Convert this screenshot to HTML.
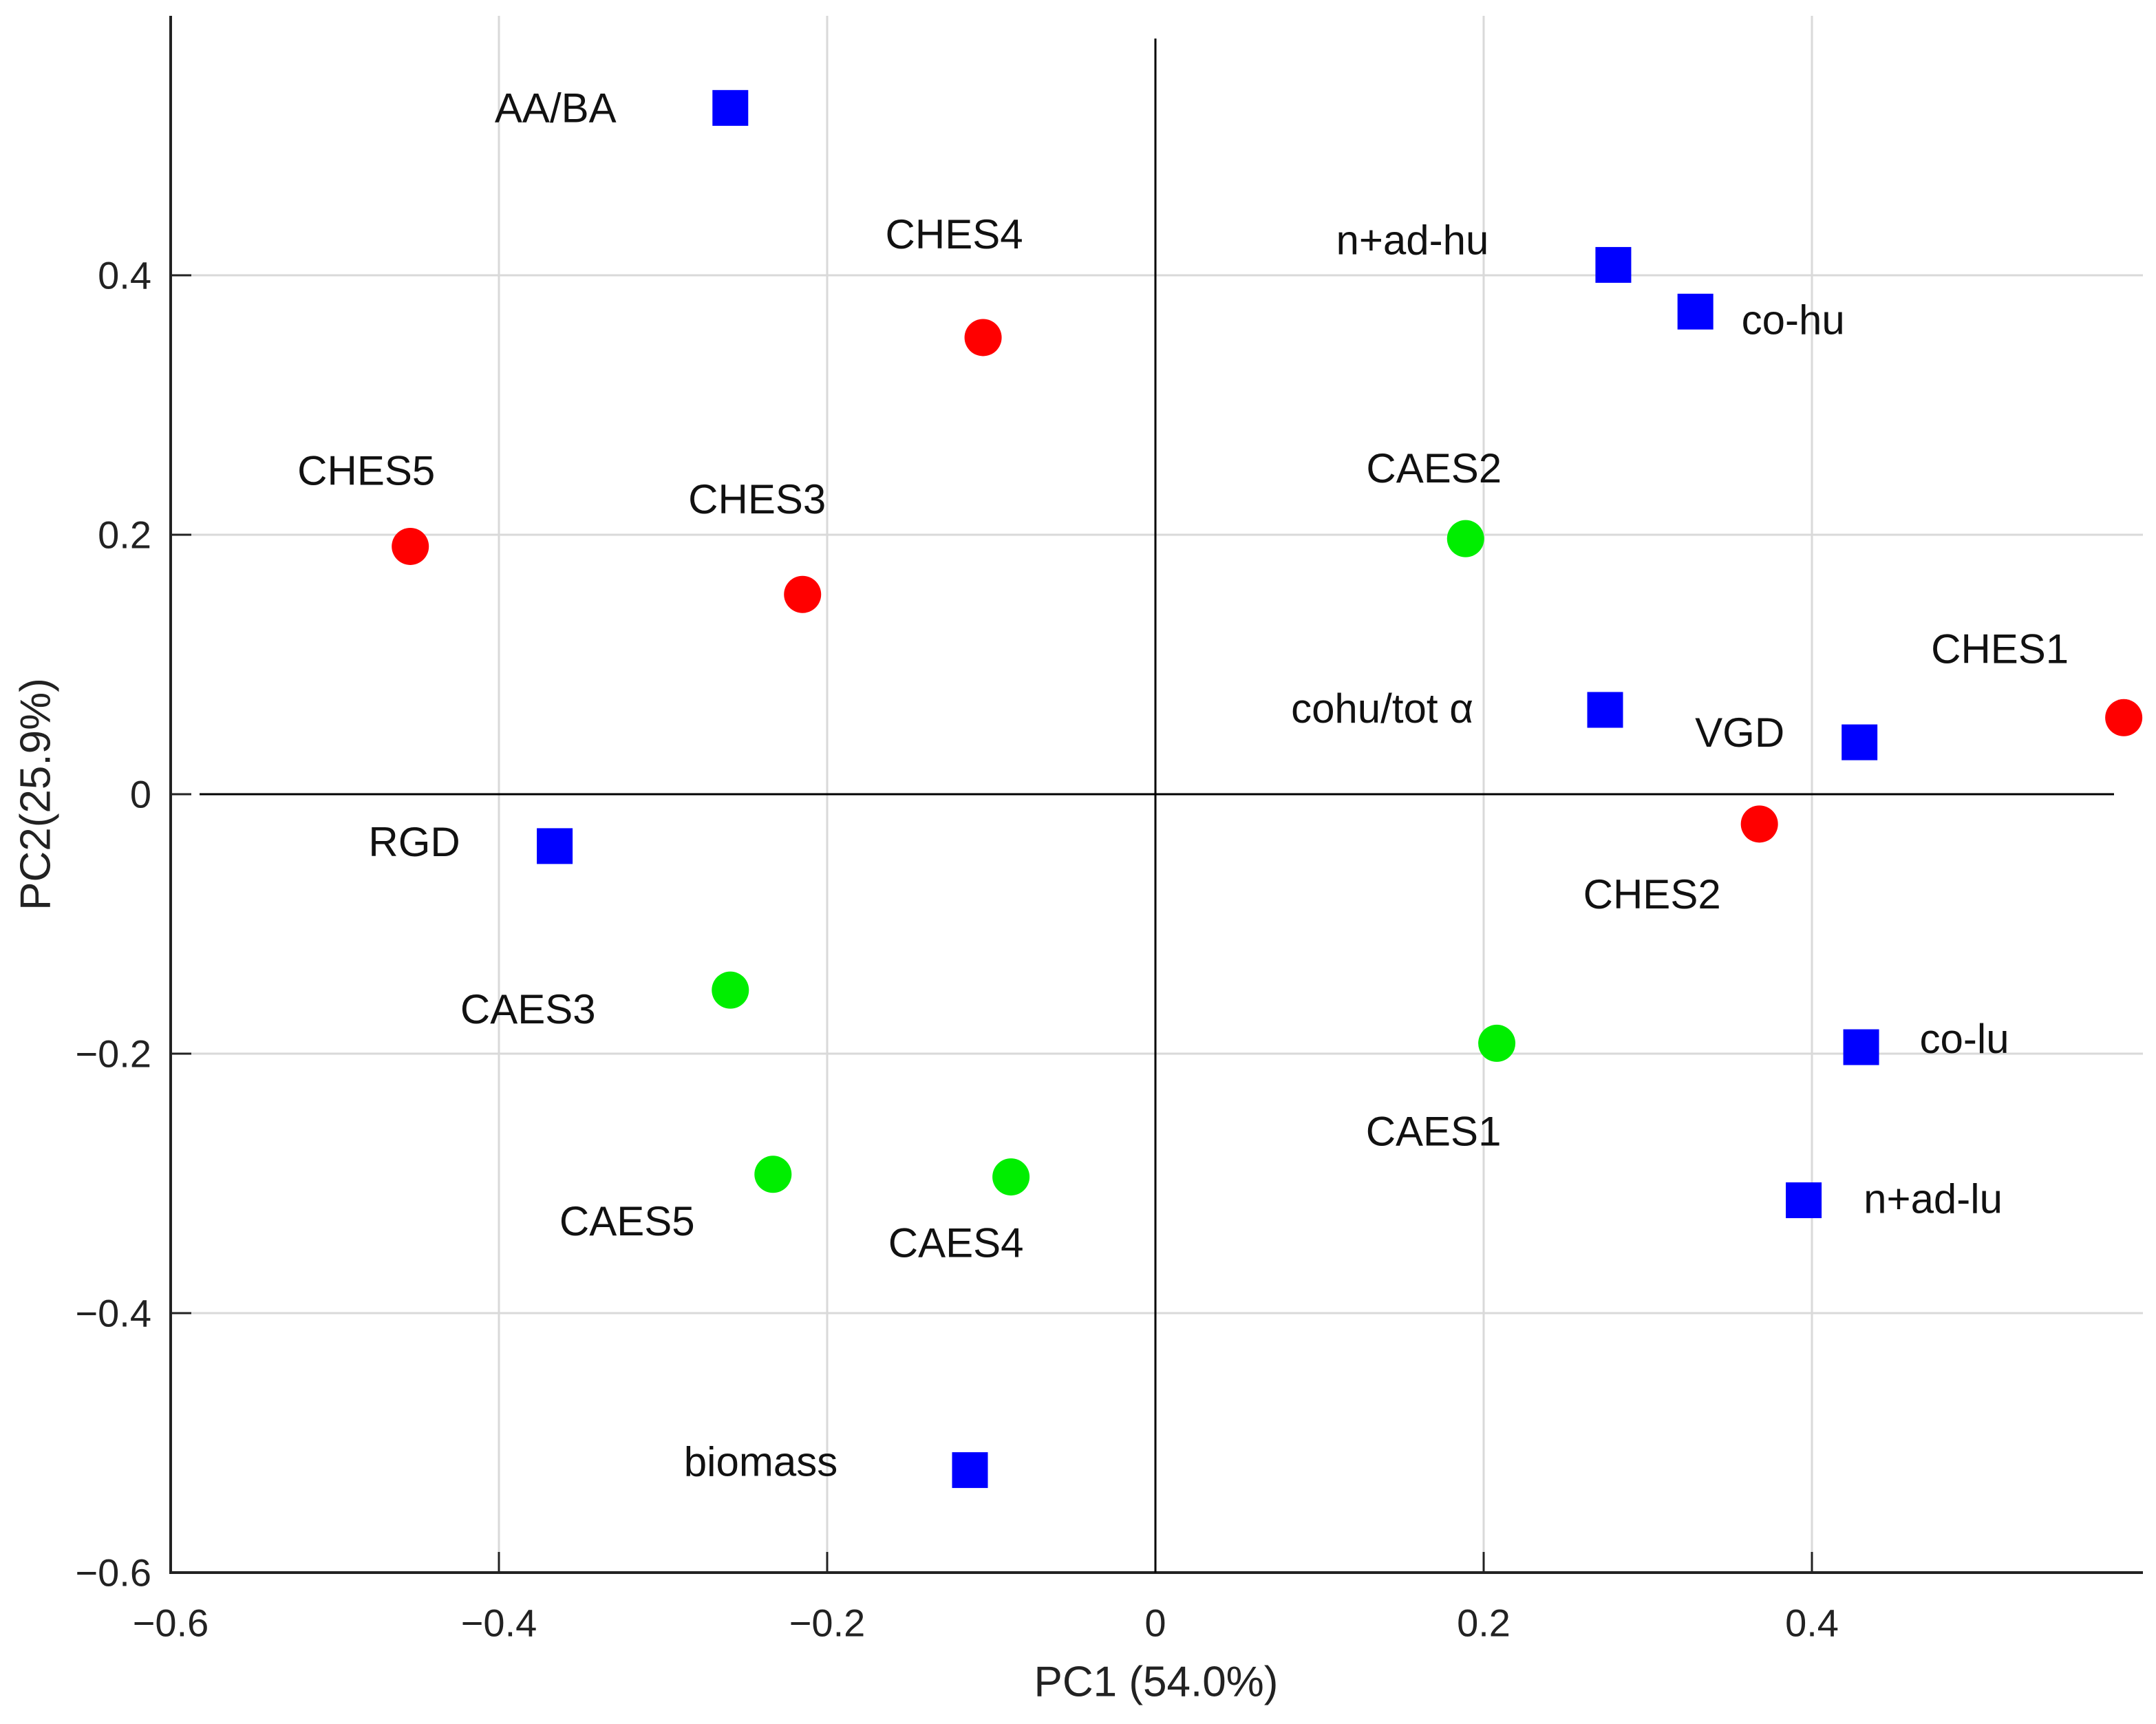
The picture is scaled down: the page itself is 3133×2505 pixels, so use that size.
<!DOCTYPE html>
<html><head><meta charset="utf-8"><style>
html,body{margin:0;padding:0;background:#fff;}
svg{display:block;font-family:"Liberation Sans",Arial,sans-serif;}
</style></head><body>
<svg id="chart" width="3133" height="2505" viewBox="0 0 3133 2505" xmlns="http://www.w3.org/2000/svg">
<g id="grid"></g>
<g id="axes"></g>
<g id="marks"></g>
<g id="labels"></g>
</svg>
<script>
const names = ["AA/BA","CHES4","n+ad-hu","co-hu","CHES5","CHES3","CAES2","cohu/tot α","VGD","CHES1","CHES2","RGD","CAES3","CAES1","co-lu","n+ad-lu","CAES5","CAES4","biomass"];
const pc1 = [-0.259,-0.105,0.279,0.329,-0.454,-0.215,0.189,0.274,0.429,0.590,0.368,-0.366,-0.259,0.208,0.430,0.395,-0.233,-0.088,-0.113];
const pc2 = [0.529,0.352,0.408,0.372,0.191,0.154,0.197,0.065,0.040,0.059,-0.023,-0.040,-0.151,-0.192,-0.195,-0.313,-0.293,-0.295,-0.521];
const kinds = ["var","ches","var","var","ches","ches","caes","var","var","ches","ches","var","caes","caes","var","var","caes","caes","var"];
const xTicks = [-0.6,-0.4,-0.2,0,0.2,0.4];
const yTicks = [-0.6,-0.4,-0.2,0,0.2,0.4];
const xTickLabels = ["\u22120.6","\u22120.4","\u22120.2","0","0.2","0.4"];
const yTickLabels = ["\u22120.6","\u22120.4","\u22120.2","0","0.2","0.4"];

const labelDx = [-254,-42,-292,142,-64,-66,-46,-324,-174,-180,-156,-204,-294,-92,150,188,-212,-80,-304];
const labelDy = [0,-150,-36,12,-110,-138,-102,-2,-14,-100,102,-6,28,128,-12,-2,68,96,-12];

const NS="http://www.w3.org/2000/svg";
const X0=248, X1=3110, Y0=2285, Y1=23;
const xs = v => X0 + (v+0.6)/1.2*(X1-X0);
const ys = v => Y0 - (v+0.6)/1.2*(Y0-Y1);
function mk(tag, attrs, parent){const e=document.createElementNS(NS,tag);for(const k in attrs)e.setAttribute(k,attrs[k]);parent.appendChild(e);return e;}
const grid=document.getElementById('grid'), axes=document.getElementById('axes'), marks=document.getElementById('marks'), labels=document.getElementById('labels');

xTicks.forEach((t,i)=>{
  if(t!==0 && t!==-0.6){
    const l=mk('line',{x1:xs(t),x2:xs(t),y1:Y1,y2:Y0,stroke:'#d9d9d9','stroke-width':3},grid);
    
    
  }
  const tk=mk('line',{x1:xs(t),x2:xs(t),y1:Y0,y2:Y0-30,stroke:'#222','stroke-width':3},axes);
  
  
  const tx=mk('text',{x:xs(t),y:2358,'font-size':56,'text-anchor':'middle','dominant-baseline':'central',fill:'#222'},axes);
  tx.textContent=xTickLabels[i];
  
  
});
yTicks.forEach((t,i)=>{
  if(t!==0 && t!==-0.6){
    const l=mk('line',{x1:X0,x2:X1+4,y1:ys(t),y2:ys(t),stroke:'#d9d9d9','stroke-width':3},grid);
    
    
  }
  const tk=mk('line',{x1:X0,x2:X0+30,y1:ys(t),y2:ys(t),stroke:'#222','stroke-width':3},axes);
  
  
  const tx=mk('text',{x:220,y:ys(t),'font-size':56,'text-anchor':'end','dominant-baseline':'central',fill:'#222'},axes);
  tx.textContent=yTickLabels[i];
  
  
});
let a=mk('line',{x1:X0,x2:X0,y1:Y1,y2:Y0+2,stroke:'#222','stroke-width':4},axes);


a=mk('line',{x1:X0-2,x2:X1+4,y1:Y0,y2:Y0,stroke:'#222','stroke-width':4},axes);


a=mk('line',{x1:290,x2:3072,y1:ys(0),y2:ys(0),stroke:'#000','stroke-width':3},axes);


a=mk('line',{x1:xs(0),x2:xs(0),y1:56,y2:Y0,stroke:'#000','stroke-width':3},axes);


let t=mk('text',{x:1680,y:2444,'font-size':62,'text-anchor':'middle','dominant-baseline':'central',fill:'#222'},axes);
t.textContent='PC1 (54.0%)';


t=mk('text',{x:52,y:1154,'font-size':62,'text-anchor':'middle','dominant-baseline':'central',fill:'#222',transform:'rotate(-90 52 1154)'},axes);
t.textContent='PC2(25.9%)';



const colors={ches:'#ff0000',caes:'#00ee00'};
names.forEach((n,i)=>{
  const cx=xs(pc1[i]), cy=ys(pc2[i]);
  let m;
  if(kinds[i]==='var'){
    m=mk('rect',{x:cx-26,y:cy-26,width:52,height:52,fill:'#0000ff'},marks);
    
  } else {
    m=mk('circle',{cx:cx,cy:cy,r:27,fill:colors[kinds[i]]},marks);
    
  }
  
  const lb=mk('text',{x:cx+labelDx[i],y:cy+labelDy[i],'font-size':60,'text-anchor':'middle','dominant-baseline':'central',fill:'#111'},labels);
  lb.textContent=n;
  
  
});
</script>
</body></html>
